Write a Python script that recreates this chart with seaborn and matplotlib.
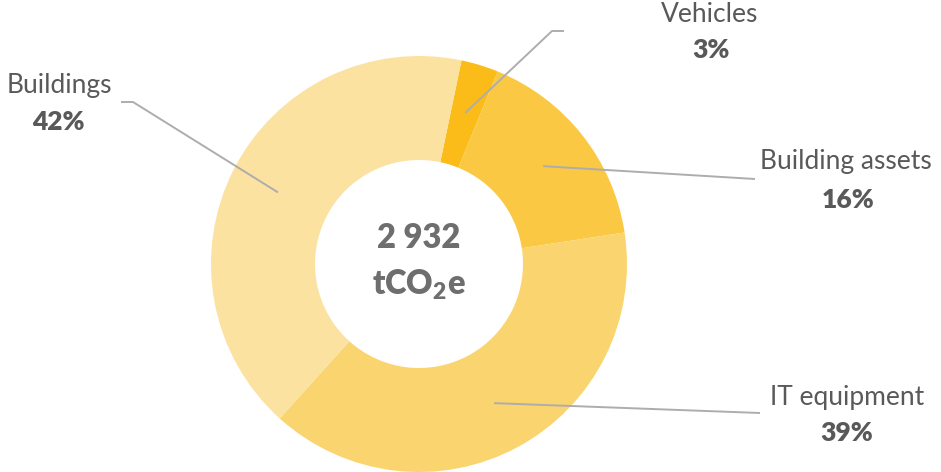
import numpy as np
import matplotlib
matplotlib.use("Agg")
import matplotlib.pyplot as plt
import seaborn as sns

# ---- data ----
categories = ["Vehicles", "Building assets", "IT equipment", "Buildings"]
shares = [2.9, 16.4, 39.1, 41.6]          # percent of total
total_label = "2 932"
unit_label = r"tCO$_{\mathregular{2}}$e"
colors = ["#FBBC1A", "#FAC842", "#FAD46E", "#FBE2A0"]

sns.set_theme(style="white")
plt.rcParams["font.family"] = ["Lato", "DejaVu Sans"]

W, H = 941, 472
fig = plt.figure(figsize=(W / 100, H / 100), dpi=100)
ax = fig.add_axes([0, 0, 1, 1])

cx, cy, R = 419, H - 264, 208
wedges, _ = ax.pie(shares, colors=colors, startangle=90 - 11.8, counterclock=False,
                   radius=R, center=(cx, cy),
                   wedgeprops=dict(width=R * 0.5, edgecolor="none", linewidth=0))
ax.set_xlim(0, W)
ax.set_ylim(0, H)
ax.set_aspect("equal")
ax.axis("off")

# label layout (pixel coords, y down): elbow/end of leader, name position, pct position
layout = {
    "Vehicles":        dict(pts=[(552, 31), (564, 31)], name=(710, 15), pct=(711, 50)),
    "Building assets": dict(pts=[(755, 179)], name=(846, 162), pct=(848, 200)),
    "IT equipment":    dict(pts=[(760, 413)], name=(847, 398), pct=(847, 433)),
    "Buildings":       dict(pts=[(133, 102), (121, 102)], name=(59, 85), pct=(58, 122)),
}

txt_col = "#595959"
line_col = "#ADADAD"
for w, cat, s in zip(wedges, categories, shares):
    mid = np.deg2rad((w.theta1 + w.theta2) / 2)
    ax_x = cx + 0.76 * R * np.cos(mid)
    ax_y = cy + 0.76 * R * np.sin(mid)
    lay = layout[cat]
    xs = [ax_x] + [p[0] for p in lay["pts"]]
    ys = [ax_y] + [H - p[1] for p in lay["pts"]]
    ax.plot(xs, ys, color=line_col, lw=1.4, solid_capstyle="butt")
    nx, ny = lay["name"]
    px, py = lay["pct"]
    ax.text(nx, H - ny, cat, ha="center", va="center", fontsize=19, color=txt_col)
    ax.text(px, H - py, f"{round(s):d}%", ha="center", va="center", fontsize=19,
            color=txt_col, fontweight="heavy")

ax.text(cx, H - 238, total_label, ha="center", va="center", fontsize=23.5,
        color="#6E6E6E", fontweight="heavy")
ax.text(cx, H - 285, unit_label, ha="center", va="center", fontsize=23.5,
        color="#6E6E6E", fontweight="heavy")

fig.savefig("out.png", dpi=100, facecolor="white")
